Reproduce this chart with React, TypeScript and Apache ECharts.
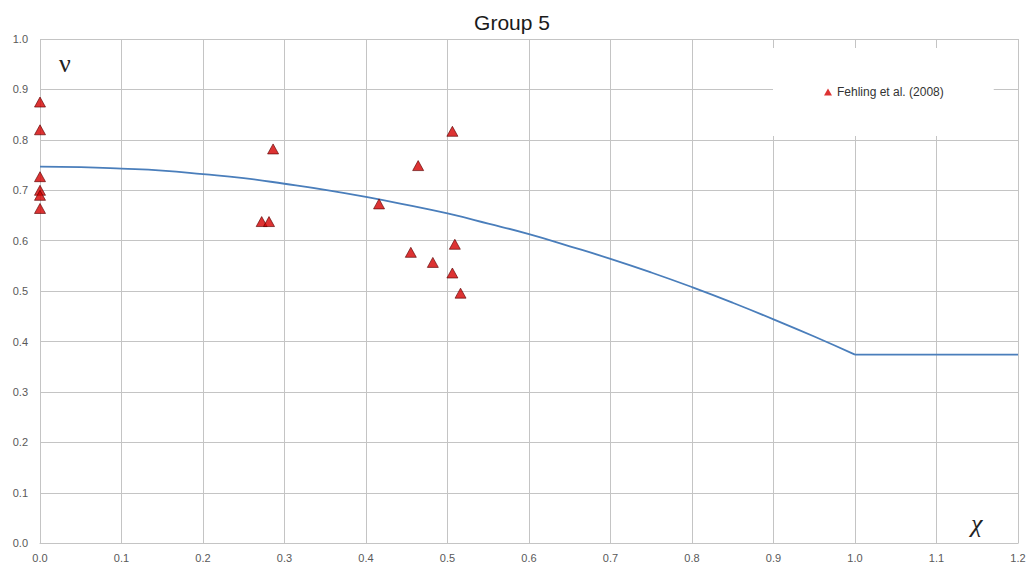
import React, { useEffect, useRef } from "react";
import * as echarts from "echarts";

const TITLE = "Group 5";
const LEGEND_NAME = "Fehling et al. (2008)";

// Model curve (chi, nu): curved part up to chi = 1, then flat
const curveChi = [0, 0.05, 0.1, 0.15, 0.2, 0.25, 0.3, 0.35, 0.4, 0.45, 0.5, 0.55, 0.6, 0.65, 0.7, 0.75, 0.8, 0.85, 0.9, 0.95, 1.0];
const curveNu = [0.747, 0.746, 0.743, 0.739, 0.732, 0.724, 0.713, 0.701, 0.687, 0.671, 0.654, 0.634, 0.613, 0.589, 0.564, 0.537, 0.508, 0.477, 0.444, 0.41, 0.374];
const flatChi = [1.0, 1.2];
const flatNu = [0.374, 0.374];

// Fehling et al. (2008) data points
const pointChi = [0, 0, 0, 0, 0, 0, 0.272, 0.281, 0.286, 0.416, 0.455, 0.464, 0.482, 0.506, 0.509, 0.506, 0.516];
const pointNu = [0.875, 0.82, 0.727, 0.70, 0.69, 0.664, 0.638, 0.638, 0.782, 0.673, 0.577, 0.749, 0.557, 0.817, 0.593, 0.536, 0.496];

export default function App() {
  const ref = useRef<HTMLDivElement>(null);
  useEffect(() => {
    if (!ref.current) return;
    const chart = echarts.init(ref.current, null, { renderer: "svg" });
    const gridColor = "#c4c4c4";
    const labelColor = "#595959";
    const lineStyle = { color: "#4a7ebb", width: 1.8 };
    chart.setOption({
      animation: false,
      backgroundColor: "#ffffff",
      title: {
        text: TITLE,
        left: 507,
        textAlign: "center",
        top: 7,
        textStyle: { fontFamily: "Liberation Sans", fontSize: 21, fontWeight: "normal", color: "#1a1a1a" },
      },
      grid: { left: 40, right: 14, top: 39, bottom: 26.7, containLabel: false },
      legend: {
        left: 773,
        top: 48,
        padding: [38, 50, 38, 51],
        backgroundColor: "#ffffff",
        itemWidth: 8,
        itemHeight: 7,
        itemGap: 4,
        textStyle: { fontFamily: "Liberation Sans", fontSize: 12, color: "#333" },
        data: [{ name: LEGEND_NAME, icon: "triangle", itemStyle: { color: "#d40000", borderWidth: 0 } }],
        z: 10,
      },
      xAxis: {
        type: "value",
        min: 0,
        max: 1.2,
        interval: 0.1,
        axisLine: { show: true, lineStyle: { color: gridColor, width: 1 } },
        axisTick: { show: false },
        splitLine: { show: true, lineStyle: { color: gridColor, width: 1 } },
        axisLabel: {
          margin: 9,
          color: labelColor,
          fontFamily: "Liberation Sans",
          fontSize: 11,
          formatter: (v: number) => v.toFixed(1),
        },
      },
      yAxis: {
        type: "value",
        min: 0,
        max: 1,
        interval: 0.1,
        axisLine: { show: false },
        axisTick: { show: false },
        splitLine: { show: true, lineStyle: { color: gridColor, width: 1 } },
        axisLabel: {
          margin: 12,
          color: labelColor,
          fontFamily: "Liberation Sans",
          fontSize: 11,
          formatter: (v: number) => v.toFixed(1),
        },
      },
      graphic: [
        {
          type: "text",
          left: 59,
          top: 50,
          style: { text: "ν", fontFamily: "Liberation Serif", fontSize: 26, fill: "#222" },
          z: 10,
        },
        {
          type: "text",
          left: 971,
          top: 510,
          style: { text: "χ", fontFamily: "Liberation Serif", fontStyle: "italic", fontSize: 26, fill: "#222" },
          z: 10,
        },
      ],
      series: [
        {
          name: "model",
          type: "line",
          data: curveChi.map((c, i) => [c, curveNu[i]]),
          showSymbol: false,
          symbol: "none",
          smooth: true,
          lineStyle,
          z: 2,
        },
        {
          name: "model flat",
          type: "line",
          data: flatChi.map((c, i) => [c, flatNu[i]]),
          showSymbol: false,
          symbol: "none",
          lineStyle,
          z: 2,
        },
        {
          name: LEGEND_NAME,
          type: "scatter",
          data: pointChi.map((c, i) => [c, pointNu[i]]),
          symbol: "triangle",
          symbolSize: [11, 10],
          itemStyle: { color: "#d40000", borderColor: "#5a0000", borderWidth: 0.8 },
          z: 3,
        },
      ],
    });
    return () => chart.dispose();
  }, []);
  return (
    <div
      ref={ref}
      style={{ position: "fixed", left: 0, top: 0, width: 1032, height: 570 }}
    />
  );
}
